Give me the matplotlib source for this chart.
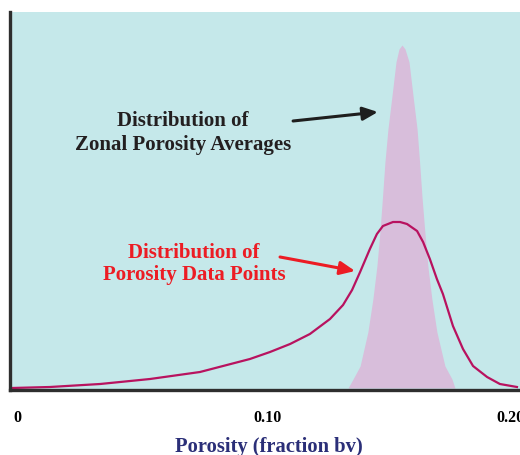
import matplotlib
matplotlib.use("Agg")
import matplotlib.pyplot as plt
import matplotlib.transforms as mtransforms

# porosity (fraction bv) vs relative frequency
data_x = [-0.0020, 0.0131, 0.0331, 0.0530, 0.0729, 0.0928, 0.1008, 0.1088,
          0.1167, 0.1247, 0.1299, 0.1335, 0.1367, 0.1406, 0.1434, 0.1458,
          0.1498, 0.1526, 0.1554, 0.1594, 0.1618, 0.1645, 0.1673, 0.1697,
          0.1737, 0.1777, 0.1817, 0.1873, 0.1924, 0.1992]
data_y = [0, 1, 4, 9, 16, 29, 36, 44, 54, 69, 83, 98, 116, 139, 154, 162,
          166, 166, 164, 157, 146, 129, 109, 94, 62, 39, 22, 11, 4, 1]

zonal_x = [0.1319, 0.1339, 0.1367, 0.1398, 0.1418, 0.1434, 0.1446, 0.1456,
           0.1466, 0.1478, 0.1494, 0.1510, 0.1522, 0.1534, 0.1546, 0.1562,
           0.1578, 0.1594, 0.1604, 0.1614, 0.1625, 0.1637, 0.1653, 0.1673,
           0.1705, 0.1733, 0.1745]
zonal_y = [0, 9, 22, 56, 89, 122, 156, 190, 226, 259, 292, 326, 339, 343,
           339, 326, 292, 259, 226, 190, 156, 122, 89, 56, 22, 9, 0]

tick_vals = [0, 0.10, 0.20]
tick_labels = ["0", "0.10", "0.20"]

serif = "Liberation Serif"

fig = plt.figure(figsize=(5.2, 4.56), dpi=100)
ax = fig.add_axes([10/520, 65/456, 1.0, 378/456])
ax.set_facecolor("#c5e8ea")

ax.fill_between(zonal_x, zonal_y, 0, color="#d8bedb", lw=0)
ax.plot(data_x, data_y, color="#b8125f", lw=1.6)

ax.set_xlim(-0.0028, 0.2044)
ax.set_ylim(-2, 376)

for s in ["top", "right"]:
    ax.spines[s].set_visible(False)
for s in ["left", "bottom"]:
    ax.spines[s].set_linewidth(2.4)
    ax.spines[s].set_color("#2e2e2e")

ax.set_yticks([])
ax.set_xticks(tick_vals)
ax.set_xticklabels(tick_labels, fontfamily=serif, fontweight="bold", fontsize=11.5)
ax.tick_params(axis="x", length=0, pad=14)
last = ax.get_xticklabels()[-1]
last.set_transform(last.get_transform() +
                   mtransforms.ScaledTranslation(-9/100, 0, fig.dpi_scale_trans))

fig.text(269/520, 1 - 447/456, "Porosity (fraction bv)", ha="center", va="center",
         fontfamily=serif, fontweight="bold", fontsize=14.8, color="#2b2f78")

ax.annotate("", xy=(0.1438, 276), xytext=(0.1100, 267),
            arrowprops=dict(arrowstyle="-|>,head_length=0.9,head_width=0.4",
                            color="#1e1e1e", lw=2.2, shrinkA=0, shrinkB=0))
ax.text(0.0662, 256, "Distribution of\nZonal Porosity Averages", ha="center", va="center",
        fontfamily=serif, fontweight="bold", fontsize=15, color="#231f20",
        linespacing=1.28)

ax.annotate("", xy=(0.1347, 117), xytext=(0.1048, 131),
            arrowprops=dict(arrowstyle="-|>,head_length=0.9,head_width=0.4",
                            color="#ec1c24", lw=2.2, shrinkA=0, shrinkB=0))
ax.text(0.0705, 125, "Distribution of\nPorosity Data Points", ha="center", va="center",
        fontfamily=serif, fontweight="bold", fontsize=15, color="#ec1c24",
        linespacing=1.12)

fig.savefig("out.png", dpi=100)
